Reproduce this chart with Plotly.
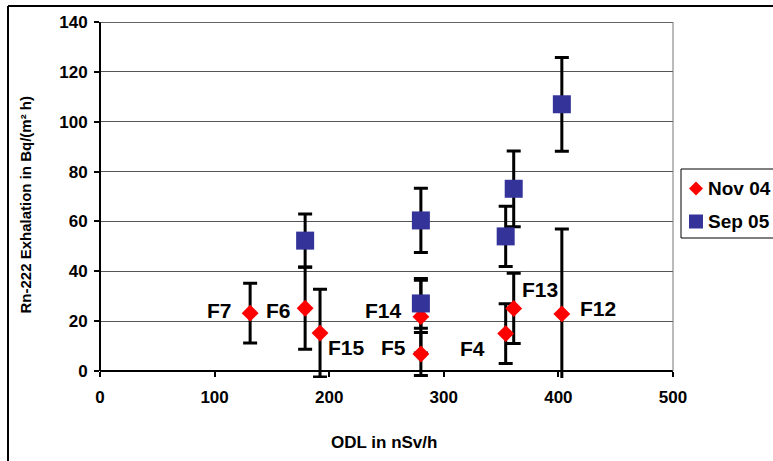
import plotly.graph_objects as go

# Survey points (Nov 04): ODL dose rate vs Rn-222 exhalation with uncertainty
site_labels = ["F7", "F6", "F15", "F14", "F5", "F4", "F13", "F12"]
odl_nov04 = [131, 179, 192, 280, 280, 354, 361, 403]
exh_nov04 = [23.2, 25.2, 15.2, 21.8, 6.8, 15.0, 25.1, 22.9]
err_nov04 = [12.0, 16.5, 17.6, 14.6, 8.6, 12.0, 14.1, 34.1]

# Repeat measurements (Sep 05)
odl_sep05 = [179, 280, 280, 354, 361, 403]
exh_sep05 = [52.3, 60.4, 27.1, 54.0, 73.1, 107.0]
err_sep05 = [10.7, 12.9, 10.0, 12.1, 15.2, 18.8]

series_names = ["Nov 04", "Sep 05"]
x_ticks = [0, 100, 200, 300, 400, 500]
y_ticks = [0, 20, 40, 60, 80, 100, 120, 140]

# label placement: (anchor, x shift px, y shift px)
label_style = {
    "F7": ("right", -16, 3),
    "F6": ("right", -12, -2),
    "F15": ("left", 6, -14),
    "F14": ("right", -17, 6),
    "F5": ("right", -13, 7),
    "F4": ("right", -19, -15),
    "F13": ("left", 6, 19),
    "F12": ("left", 16, 5),
}

FONT = "Liberation Sans, Arial, sans-serif"
RED = "#FF0000"
BLUE = "#333399"
W, H = 773, 461
ML, MR, MT, MB = 100, 100, 22, 83
plot_w = W - ML - MR
plot_h = H - MT - MB
px_per_unit = (plot_h - 7) / 140.0
y_min = -7 / px_per_unit
x0_pos = (0 - y_min) / (140 - y_min)


def px_x(px):
    """page pixel column -> paper x"""
    return (px - ML) / plot_w


def px_y(py):
    """page pixel row -> paper y"""
    return (MT + plot_h - py) / plot_h


err_style = dict(type="data", visible=True, color="black", thickness=3, width=7)

fig = go.Figure()

# error bars first so that all markers sit above them
fig.add_trace(go.Scatter(
    x=odl_nov04, y=exh_nov04, mode="markers",
    error_y=dict(array=err_nov04, **err_style),
    marker=dict(size=2, opacity=0), showlegend=False, hoverinfo="skip"))
fig.add_trace(go.Scatter(
    x=odl_sep05, y=exh_sep05, mode="markers",
    error_y=dict(array=err_sep05, **err_style),
    marker=dict(size=2, opacity=0), showlegend=False, hoverinfo="skip"))

fig.add_trace(go.Scatter(
    x=odl_nov04, y=exh_nov04, mode="markers", name=series_names[0],
    showlegend=False,
    marker=dict(symbol="diamond", size=13, color=RED, line=dict(width=0))))
fig.add_trace(go.Scatter(
    x=odl_sep05, y=exh_sep05, mode="markers", name=series_names[1],
    showlegend=False,
    marker=dict(symbol="square", size=18, color=BLUE, line=dict(width=0))))

annotations = []
for lab, xv, yv in zip(site_labels, odl_nov04, exh_nov04):
    anchor, dx, dy = label_style[lab]
    annotations.append(dict(
        x=xv, y=yv, xref="x", yref="y", text=lab, showarrow=False,
        xanchor=anchor, yanchor="middle", xshift=dx, yshift=dy,
        font=dict(family=FONT, size=21, color="black", weight="bold")))

# axis titles
annotations.append(dict(
    x=px_x(24.5), y=px_y(205), xref="paper", yref="paper",
    text="Rn-222 Exhalation in Bq/(m² h)", showarrow=False, textangle=-90,
    xanchor="center", yanchor="middle",
    font=dict(family=FONT, size=15, color="black", weight="bold")))
annotations.append(dict(
    x=px_x(384), y=px_y(442.7), xref="paper", yref="paper",
    text="ODL in nSv/h", showarrow=False, xanchor="center", yanchor="middle",
    font=dict(family=FONT, size=17, color="black", weight="bold")))

# legend entries (box + symbols + names)
legend_rows = [(188.5, "diamond", RED), (221.5, "square", BLUE)]
for (row_y, _, _), name in zip(legend_rows, series_names):
    annotations.append(dict(
        x=px_x(706), y=px_y(row_y), xref="paper", yref="paper", text=name,
        showarrow=False, xanchor="left", yanchor="middle",
        font=dict(family=FONT, size=19, color="black", weight="bold")))

shapes = [
    # plot area frame
    dict(type="line", xref="paper", yref="y", x0=0, x1=0, y0=0, y1=140,
         line=dict(color="black", width=2)),
    dict(type="line", xref="paper", yref="y", x0=0, x1=1, y0=140, y1=140,
         line=dict(color="#333333", width=1.5)),
    dict(type="line", xref="paper", yref="y", x0=1, x1=1, y0=0, y1=140,
         line=dict(color="#777777", width=1)),
    # outer chart frame
    dict(type="line", xref="paper", yref="paper",
         x0=px_x(8), x1=px_x(8), y0=px_y(H + 5), y1=px_y(6),
         line=dict(color="black", width=2)),
    dict(type="line", xref="paper", yref="paper",
         x0=px_x(8), x1=px_x(W + 5), y0=px_y(6), y1=px_y(6),
         line=dict(color="black", width=2)),
    # legend box
    dict(type="rect", xref="paper", yref="paper",
         x0=px_x(681), x1=px_x(W + 10), y0=px_y(238), y1=px_y(169),
         line=dict(color="black", width=1), fillcolor="white"),
]

sym_half = 7
for row_y, sym, col in legend_rows:
    cx = 696
    if sym == "diamond":
        path = "M {} {} L {} {} L {} {} L {} {} Z".format(
            px_x(cx), px_y(row_y - sym_half), px_x(cx + sym_half), px_y(row_y),
            px_x(cx), px_y(row_y + sym_half), px_x(cx - sym_half), px_y(row_y))
        shapes.append(dict(type="path", xref="paper", yref="paper", path=path,
                           fillcolor=col, line=dict(width=0)))
    else:
        shapes.append(dict(type="rect", xref="paper", yref="paper",
                           x0=px_x(cx - sym_half), x1=px_x(cx + sym_half),
                           y0=px_y(row_y + sym_half), y1=px_y(row_y - sym_half),
                           fillcolor=col, line=dict(width=0)))

tick_font = dict(family=FONT, size=17, color="black", weight="bold")

fig.update_layout(
    width=W, height=H,
    margin=dict(l=ML, r=MR, t=MT, b=MB, pad=0, autoexpand=False),
    paper_bgcolor="white", plot_bgcolor="white",
    font=dict(family=FONT, color="black"),
    xaxis=dict(range=[0, 500], tickvals=x_ticks, ticks="outside", ticklen=5,
               tickwidth=2, tickcolor="black", showgrid=False, zeroline=False,
               showline=True, linecolor="black", linewidth=2,
               anchor="free", position=x0_pos, tickfont=tick_font,
               ticklabelstandoff=6),
    yaxis=dict(range=[y_min, 140], tickvals=y_ticks, ticks="outside", ticklen=5,
               tickwidth=2, tickcolor="black", showgrid=True, gridcolor="#555555",
               gridwidth=1, zeroline=False, showline=False, tickfont=tick_font,
               ticklabelstandoff=3),
    annotations=annotations,
    shapes=shapes,
    showlegend=False,
)

fig.write_html("out.html")
